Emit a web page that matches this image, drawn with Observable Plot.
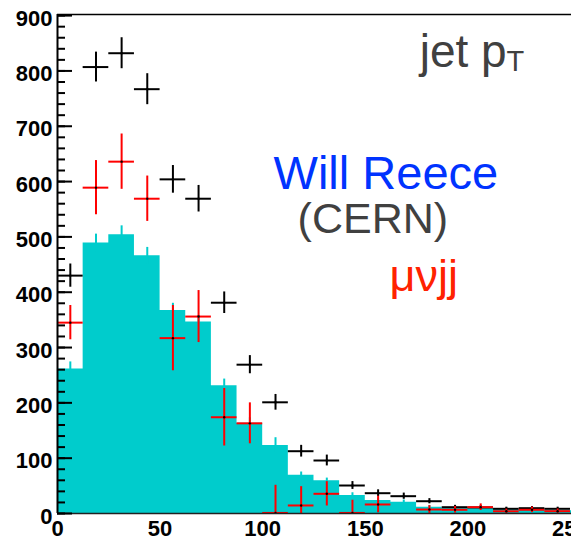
<!DOCTYPE html>
<html><head><meta charset="utf-8">
<script src="https://cdn.jsdelivr.net/npm/d3@7"></script>
<script src="https://cdn.jsdelivr.net/npm/@observablehq/plot@0.6"></script>
<style>
html,body{margin:0;padding:0;background:#fff;overflow:hidden}
</style></head><body><div id="chart"></div>
<script>
// bin edges (GeV)
const binEdges = [0,12.5,25,37.5,50,62.5,75,87.5,100,112.5,125,137.5,150,162.5,175,187.5,200,212.5,225,237.5,250,262.5];
// filled (cyan) histogram contents and their error stubs
const mcCounts = [261,489,504,466,367,346,231,163,123,69,59,32.5,23.5,20.4,11.4,9,11,7,7,6,5];
const mcErrors = [13,16,16,15,13,12,12,10,14,6,5,5,4,4,3,3,3,3,3,2,2];
// black data points
const blackValues = [430,807,832,767,604,569,381,269,201,112.6,95.8,50.6,36.7,31.3,22.2,11.4,11,8.5,9.6,8.5];
const blackErrors = [21,27,28,28,25,24,19.5,16.4,14.2,10.6,9.8,7.1,6.1,5.6,4.7,3.4,3.3,2.9,3.1,2.9];
// red data points
const redValues = [345,589,636,569,317,356,174,163,1,14.5,35.6,1,16.3,null,7.2,6.7,11.4,4,6.7,4.2];
const redErrors = [31,49,50,41,59,47,52,37,50,34,22,23,15,null,7,6,6,4,5,4];
// axis ticks
const xTicks = [0,50,100,150,200,250];
const yTicks = [0,100,200,300,400,500,600,700,800,900];
const yMax = 902;

const mcBins = mcCounts.map((v,i)=>({lo:binEdges[i], hi:binEdges[i+1], mid:(binEdges[i]+binEdges[i+1])/2, v, e:mcErrors[i]}));
const areaPts = binEdges.map((x,i)=>({x, y: mcCounts[Math.min(i, mcCounts.length-1)]}));
const mkPts = (vals, errs) => vals.map((v,i)=>({lo:binEdges[i], hi:binEdges[i+1], mid:(binEdges[i]+binEdges[i+1])/2, v, e:errs[i]})).filter(d=>d.v!=null);
const blackPts = mkPts(blackValues, blackErrors);
const redPts = mkPts(redValues, redErrors);

const crosses = (pts, color) => [
  Plot.ruleY(pts, {y:"v", x1:"lo", x2:"hi", stroke:color, strokeWidth:2, clip:true}),
  Plot.ruleX(pts, {x:"mid", y1:d=>d.v-d.e, y2:d=>d.v+d.e, stroke:color, strokeWidth:2, clip:true}),
  Plot.dot(pts, {x:"mid", y:"v", r:1.2, fill:"black", clip:true})
];

const plot = Plot.plot({
  width: 571, height: 540,
  marginLeft: 57, marginRight: 0, marginTop: 14, marginBottom: 27,
  x: {domain: [0, 250.5], label: null},
  y: {domain: [0, yMax], label: null},
  style: {fontFamily: "'Liberation Sans', Arial, Helvetica, sans-serif", background: "#fff", color: "#000"},
  marks: [
    Plot.areaY(areaPts, {x:"x", y:"y", curve:"step-after", fill:"#00cccc", clip:true}),
    Plot.ruleX(mcBins, {x:"mid", y1:d=>d.v-d.e, y2:d=>d.v+d.e, stroke:"#00cccc", strokeWidth:2, clip:true}),
    ...crosses(blackPts, "black"),
    ...crosses(redPts, "#ff0000"),
    Plot.ruleX([0], {stroke:"black", strokeWidth:2}),
    Plot.ruleY([0], {stroke:"#222", strokeWidth:1.5}),
    Plot.ruleY([yMax], {stroke:"black", strokeWidth:1.5}),
    Plot.axisY({ticks: d3.range(0, 901, 20), tickSize: -8, tickFormat: () => "", strokeWidth: 2}),
    Plot.axisY({ticks: yTicks, tickSize: -15, tickFormat: () => "", strokeWidth: 2}),
    Plot.axisY({ticks: yTicks, tickSize: 0, tickPadding: 5, dy: 3, fontSize: 22, fontWeight: "bold", fill: "black"}),
    Plot.axisX({ticks: xTicks, tickSize: 0, tickPadding: 7, fontSize: 22, fontWeight: "bold", fill: "black"}),
    Plot.text(["Will Reece"], {x: 105.3, y: 587, text: d=>d, textAnchor:"start", lineAnchor:"bottom", fontSize: 47, fill:"#0033ff"}),
    Plot.text(["(CERN)"], {x: 117, y: 507, text: d=>d, textAnchor:"start", lineAnchor:"bottom", fontSize: 43, fill:"#404040"}),
    Plot.text(["μνjj"], {x: 161.8, y: 403, text: d=>d, textAnchor:"start", lineAnchor:"bottom", fontSize: 45, fill:"#ff2200"}),
    Plot.text(["jet pT"], {x: 176.5, y: 806.8, text: d=>d, textAnchor:"start", lineAnchor:"bottom", fontSize: 46, fill:"#404040"})
  ]
});
// subscript T
plot.querySelectorAll("text").forEach(t => {
  if (t.textContent === "jet pT") {
    t.textContent = "jet p";
    const ts = document.createElementNS("http://www.w3.org/2000/svg", "tspan");
    ts.setAttribute("font-size", "29");
    ts.setAttribute("dy", "4");
    ts.textContent = "T";
    t.appendChild(ts);
  }
});
document.getElementById("chart").appendChild(plot);
</script></body></html>
